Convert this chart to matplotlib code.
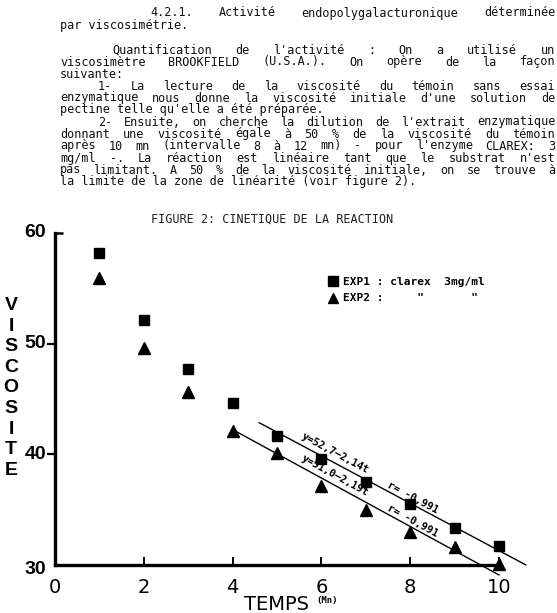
import math
import matplotlib
matplotlib.use("Agg")
import matplotlib.pyplot as plt
import numpy as np

# Data
temps = [1, 2, 3, 4, 5, 6, 7, 8, 9, 10]
exp1_visc = [58.2, 52.1, 47.7, 44.6, 41.7, 39.6, 37.5, 35.5, 33.3, 31.7]
exp2_visc = [55.9, 49.6, 45.6, 42.1, 40.1, 37.1, 35.0, 33.0, 31.6, 30.1]

# regression lines printed on the chart: v = a + b*t, drawn over [t0, t1]
fit1 = (52.7, -2.14, 4.6, 10.6)
fit2 = (51.0, -2.19, 4.0, 10.0)
fit1_labels = ["y=52,7\u20132,14t", "r= -0,991"]
fit2_labels = ["y=51,0\u20132,19t", "r= -0,991"]

x_ticks = [0, 2, 4, 6, 8, 10]
y_ticks = [30, 40, 50, 60]
legend_labels = ["EXP1 : clarex  3mg/ml", 'EXP2 :     "       "']

paragraph = [
    # (text, y px, left px, justified)
    ("4.2.1.  Activité  endopolygalacturonique  déterminée", 13, 150, True),
    ("par viscosimétrie.", 25, 60, False),
    ("Quantification de l'activité : On a utilisé un", 50, 112, True),
    ("viscosimètre BROOKFIELD (U.S.A.). On opère de la façon", 62, 60, True),
    ("suivante:", 74, 60, False),
    ("1- La lecture de la viscosité du témoin sans essai", 86, 98, True),
    ("enzymatique nous donne la viscosité initiale d'une solution de", 98, 60, True),
    ("pectine telle qu'elle a été préparée.", 110, 60, False),
    ("2- Ensuite, on cherche la dilution de l'extrait enzymatique", 122, 98, True),
    ("donnant une viscosité égale à 50 % de la viscosité du témoin", 134, 60, True),
    ("après 10 mn (intervalle 8 à 12 mn) - pour l'enzyme CLAREX: 3", 146, 60, True),
    ("mg/ml -. La réaction est linéaire tant que le substrat n'est", 158, 60, True),
    ("pas limitant. A 50 % de la viscosité initiale, on se trouve à", 170, 60, True),
    ("la limite de la zone de linéarité (voir figure 2).", 182, 60, False),
]
figure_title = "FIGURE 2: CINETIQUE DE LA REACTION"

W, H, DPI = 557, 613, 100
RIGHT_MARGIN = 555
MONO = "DejaVu Sans Mono"
BODY_SIZE = 8.5


def put_line(fig, text, y, x0, justified):
    """Write one line of typed text, spreading words to the margin if needed."""
    words = text.split()
    cw = 0.602 * BODY_SIZE * DPI / 72  # advance of one monospace char, px
    if not justified or len(words) < 2:
        fig.text(x0 / W, 1 - y / H, " ".join(words), family=MONO,
                 size=BODY_SIZE, va="center", color="#101010")
        return
    used = sum(len(w) for w in words) * cw
    gap = (RIGHT_MARGIN - x0 - used) / (len(words) - 1)
    x = x0
    for w in words:
        fig.text(x / W, 1 - y / H, w, family=MONO, size=BODY_SIZE,
                 va="center", color="#101010")
        x += len(w) * cw + gap


def screen_angle(ax, slope):
    p1 = ax.transData.transform((5, 40))
    p2 = ax.transData.transform((6, 40 + slope))
    return math.degrees(math.atan2(p2[1] - p1[1], p2[0] - p1[0]))


def main():
    fig = plt.figure(figsize=(W / DPI, H / DPI), dpi=DPI)

    for text, y, x0, just in paragraph:
        put_line(fig, text, y, x0, just)
    fig.text(272 / W, 1 - 219 / H, figure_title, family=MONO, size=8.5,
             ha="center", va="center", color="#222222")

    # axes: t=0 at x=55px, t=10 at 499px; v=30 at y=565px, v=60 at 233px
    ax = fig.add_axes([55 / W, (H - 565) / H, 444 / W, 332 / H])
    ax.set_xlim(0, 10)
    ax.set_ylim(30, 60)
    for side in ("top", "right"):
        ax.spines[side].set_visible(False)
    ax.spines["left"].set_linewidth(2.4)
    ax.spines["bottom"].set_linewidth(2.4)
    ax.spines["bottom"].set_bounds(0, 10)

    ax.set_xticks(x_ticks[1:])
    ax.set_xticklabels([])
    ax.tick_params(axis="x", direction="in", length=6, width=1.4)
    ax.set_yticks([40, 50])
    ax.set_yticklabels([])
    ax.tick_params(axis="y", direction="out", length=6, width=1.6)
    # top of the y axis bends to the right
    ax.plot([0, 0.17], [60, 60], color="black", lw=1.8, clip_on=False,
            solid_capstyle="butt")

    for t in x_ticks:
        ax.text(t, 28.0, str(t), ha="center", va="center", size=14,
                family="DejaVu Sans")
    for v in y_ticks:
        dy = -0.4 if v == 30 else 0
        ax.text(-0.2, v + dy, str(v), ha="right", va="center", size=14,
                family="Liberation Sans", weight="bold")

    ax.plot(temps, exp1_visc, "s", color="black", ms=7.5, clip_on=False,
            label=legend_labels[0])
    ax.plot(temps, exp2_visc, "^", color="black", ms=9, clip_on=False,
            label=legend_labels[1])

    for (a, b, t0, t1), labels in ((fit1, fit1_labels), (fit2, fit2_labels)):
        tt = np.array([t0, t1])
        ax.plot(tt, a + b * tt, color="black", lw=1.0, clip_on=False)
        ang = screen_angle(ax, b)
        for lab, tc, off in zip(labels, (6.3, 8.05), (0.9, 0.6)):
            ax.text(tc, a + b * tc + off, lab, rotation=ang,
                    rotation_mode="anchor", ha="center", va="center",
                    family=MONO, weight="bold", size=7.5)

    leg = ax.legend(loc="upper left", bbox_to_anchor=(0.6, 0.885),
                    frameon=False, handletextpad=0.4, labelspacing=0.6,
                    handlelength=1.0, borderpad=0,
                    prop={"family": MONO, "weight": "bold", "size": 8})
    for h in leg.legend_handles:
        h.set_markersize(6.5)

    fig.text(277 / W, 1 - 604 / H, "TEMPS", ha="center", va="center",
             size=14, family="DejaVu Sans")
    fig.text(316 / W, 1 - 601 / H, "(Mn)", ha="left", va="center",
             size=6.5, family=MONO, weight="bold")
    fig.text(11 / W, 1 - 388 / H, "\n".join("VISCOSITE"), ha="center",
             va="center", size=14, family="Liberation Sans", weight="bold",
             linespacing=1.27)

    fig.savefig("out.png", dpi=DPI)


if __name__ == "__main__":
    main()
